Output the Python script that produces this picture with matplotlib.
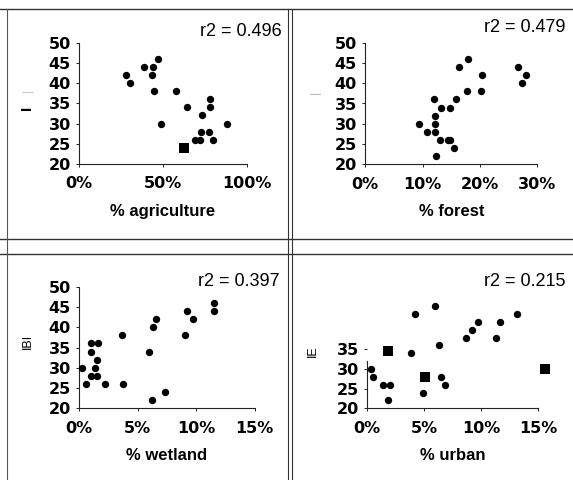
import matplotlib
matplotlib.use("Agg")
import matplotlib.pyplot as plt
from matplotlib.lines import Line2D

plt.rcParams['font.family'] = ['Liberation Sans', 'DejaVu Sans']

W, H = 573, 480

# ---------------- data ----------------
agri_x = [27.8, 30.4, 38.8, 43.9, 43.7, 47.3, 44.9, 48.7, 57.9, 64.2, 73.0, 77.7, 77.7, 72.6, 77.1, 69.0, 72.2, 79.7, 88.0]
agri_y = [42, 40, 44, 44, 42, 46, 38, 30, 38, 34, 32, 36, 34, 28, 28, 26, 26, 26, 30]
agri_sq_x = [62.4]
agri_sq_y = [24]

forest_x = [9.4, 10.8, 12.1, 12.2, 12.1, 12.0, 12.3, 13.2, 14.7, 13.1, 14.4, 14.8, 15.5, 15.9, 16.3, 17.9, 17.7, 20.2, 20.4, 26.7, 28.0, 27.4]
forest_y = [30, 28, 28, 30, 32, 36, 22, 34, 34, 26, 26, 26, 24, 36, 44, 46, 38, 38, 42, 44, 42, 40]

wet_x = [0.26, 0.57, 0.97, 1.6, 0.97, 0.97, 1.5, 1.3, 1.5, 2.2, 3.7, 3.65, 5.95, 6.2, 6.3, 6.6, 7.3, 9.0, 9.2, 9.7, 11.5, 11.5]
wet_y = [30, 26, 36, 36, 34, 28, 28, 30, 32, 26, 26, 38, 34, 22, 40, 42, 24, 38, 44, 42, 46, 44]

urb_x = [0.3, 0.5, 1.4, 2.0, 1.8, 3.8, 4.2, 4.9, 5.9, 6.3, 6.5, 6.8, 8.7, 9.2, 9.7, 11.3, 11.6, 13.1]
urb_y = [30, 28, 26, 26, 22, 34, 44, 24, 46, 36, 28, 26, 38, 40, 42, 38, 42, 44]
urb_sq_x = [1.8, 5.1, 15.6]
urb_sq_y = [34.5, 28, 30]

r2_labels = ["r2 = 0.496", "r2 = 0.479", "r2 = 0.397", "r2 = 0.215"]
x_labels = ["% agriculture", "% forest", "% wetland", "% urban"]
y_ticks_full = [20, 25, 30, 35, 40, 45, 50]
y_ticks_urban = [20, 25, 30, 35]

fig = plt.figure(figsize=(W / 100, H / 100), dpi=100)


def px_axes(x0, x1, y_top, y_bot):
    return fig.add_axes([x0 / W, 1 - y_bot / H, (x1 - x0) / W, (y_bot - y_top) / H])


def style(ax, xticks, xticklabels, yticks, xlabel):
    for s in ['top', 'right']:
        ax.spines[s].set_visible(False)
    for s in ['left', 'bottom']:
        ax.spines[s].set_linewidth(0.8)
        ax.spines[s].set_color('#222222')
    ax.set_xticks(xticks)
    ax.set_xticklabels(xticklabels)
    ax.set_yticks(yticks)
    ax.set_yticklabels([str(v) for v in yticks])
    ax.tick_params(length=2, width=0.6, labelsize=11.5)
    for lab in ax.get_xticklabels() + ax.get_yticklabels():
        lab.set_fontweight('bold')
        lab.set_family('DejaVu Sans')
    ax.tick_params(axis='x', pad=7)
    ax.tick_params(axis='y', pad=4)
    ax.set_xlabel(xlabel, fontsize=12, fontweight='bold', labelpad=9)
    ax.patch.set_alpha(0)


dot_kw = dict(s=28, c='black', marker='o', linewidths=0, clip_on=False, zorder=3)
sq_kw = dict(s=42, c='black', marker='s', linewidths=0, clip_on=False, zorder=3)

# Panel 1: agriculture
ax1 = px_axes(79, 247, 42.7, 164)
ax1.scatter(agri_x, agri_y, **dot_kw)
ax1.scatter(agri_sq_x, agri_sq_y, **sq_kw)
ax1.set_xlim(0, 100)
ax1.set_ylim(20, 50)
style(ax1, [0, 50, 100], ['0%', '50%', '100%'], y_ticks_full, x_labels[0])

# Panel 2: forest
ax2 = px_axes(365.3, 537.3, 42.7, 164.3)
ax2.scatter(forest_x, forest_y, **dot_kw)
ax2.set_xlim(0, 30)
ax2.set_ylim(20, 50)
style(ax2, [0, 10, 20, 30], ['0%', '10%', '20%', '30%'], y_ticks_full, x_labels[1])

# Panel 3: wetland
ax3 = px_axes(79.3, 254.7, 286.7, 408.3)
ax3.scatter(wet_x, wet_y, **dot_kw)
ax3.set_xlim(0, 15)
ax3.set_ylim(20, 50)
style(ax3, [0, 5, 10, 15], ['0%', '5%', '10%', '15%'], y_ticks_full, x_labels[2])

# Panel 4: urban
ax4 = px_axes(367.3, 538.3, 290.3, 408.3)
ax4.scatter(urb_x, urb_y, **dot_kw)
ax4.scatter(urb_sq_x, urb_sq_y, **sq_kw)
ax4.set_xlim(0, 15)
ax4.set_ylim(20, 50)
style(ax4, [0, 5, 10, 15], ['0%', '5%', '10%', '15%'], y_ticks_urban, x_labels[3])
ax4.spines['left'].set_bounds(20, 32)

# r2 annotations
r2_pos = [(282, 32), (566, 27), (280, 282), (566, 282)]
for (px, py), t in zip(r2_pos, r2_labels):
    fig.text(px / W, 1 - py / H, t, ha='right', va='center', fontsize=13)

# y-label fragments
fig.text(27 / W, 1 - 108 / H, 'I', rotation=90, ha='center', va='center', fontsize=11, fontweight='bold')
fig.text(28 / W, 1 - 341 / H, 'IBI', rotation=90, ha='center', va='center', fontsize=9)
fig.text(313 / W, 1 - 351 / H, 'IE', rotation=90, ha='center', va='center', fontsize=9)
fig.add_artist(Line2D([22 / W, 33 / W], [1 - 92 / H, 1 - 92 / H], color='#cccccc', lw=0.8))
fig.add_artist(Line2D([310 / W, 320 / W], [1 - 94 / H, 1 - 94 / H], color='#bbbbbb', lw=0.8))

# frame lines
def hline(y, x0=0, x1=W, lw=1.0, c='#333333'):
    fig.add_artist(Line2D([x0 / W, x1 / W], [1 - y / H, 1 - y / H], color=c, lw=lw))


def vline(x, y0, y1, lw=1.0, c='#333333'):
    fig.add_artist(Line2D([x / W, x / W], [1 - y0 / H, 1 - y1 / H], color=c, lw=lw))


hline(9)
hline(239)
hline(254)
vline(7, 9, 480, lw=0.8, c='#555555')
vline(288, 9, 480, lw=0.8)
vline(292, 9, 480, lw=0.8)

fig.savefig('out.png', dpi=100)
